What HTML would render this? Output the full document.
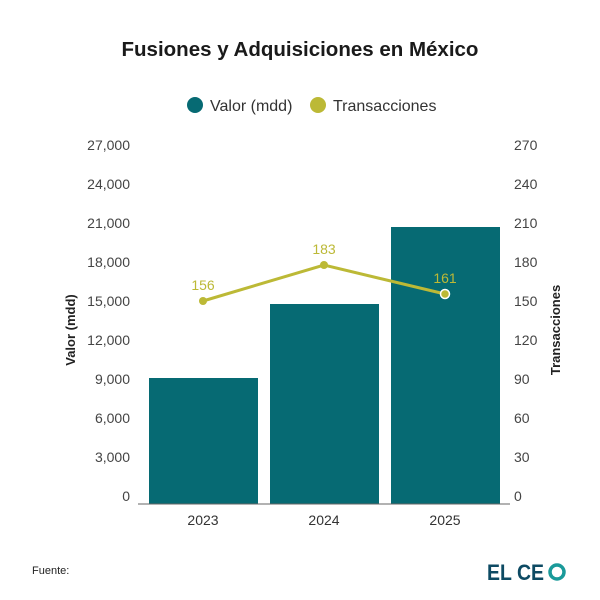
<!DOCTYPE html>
<html><head><meta charset="utf-8"><style>
body{margin:0;background:#fff;}
svg{display:block;font-family:"Liberation Sans",sans-serif;}
</style></head><body>
<svg width="600" height="600" xmlns="http://www.w3.org/2000/svg">
<rect width="600" height="600" fill="#fff"/>
<text x="300" y="56" text-anchor="middle" font-size="20.5" font-weight="bold" fill="#1a1a1a">Fusiones y Adquisiciones en México</text>
<circle cx="195" cy="105" r="8" fill="#066a73"/>
<text x="210" y="111" font-size="16" fill="#333">Valor (mdd)</text>
<circle cx="318" cy="105" r="8" fill="#bcb936"/>
<text x="333" y="111" font-size="16" fill="#333">Transacciones</text>
<g font-size="14" fill="#444" text-anchor="end">
<text x="130" y="150">27,000</text><text x="130" y="189">24,000</text><text x="130" y="228">21,000</text>
<text x="130" y="267">18,000</text><text x="130" y="306">15,000</text><text x="130" y="345">12,000</text>
<text x="130" y="384">9,000</text><text x="130" y="423">6,000</text><text x="130" y="462">3,000</text>
<text x="130" y="501">0</text>
</g>
<g font-size="14" fill="#444" text-anchor="start">
<text x="514" y="150">270</text><text x="514" y="189">240</text><text x="514" y="228">210</text>
<text x="514" y="267">180</text><text x="514" y="306">150</text><text x="514" y="345">120</text>
<text x="514" y="384">90</text><text x="514" y="423">60</text><text x="514" y="462">30</text>
<text x="514" y="501">0</text>
</g>
<text transform="translate(75,330) rotate(-90)" text-anchor="middle" font-size="13" font-weight="bold" fill="#222">Valor (mdd)</text>
<text transform="translate(560,330) rotate(-90)" text-anchor="middle" font-size="13" font-weight="bold" fill="#222">Transacciones</text>
<rect x="149" y="378" width="109" height="126" fill="#066a73"/>
<rect x="270" y="304" width="109" height="200" fill="#066a73"/>
<rect x="391" y="227" width="109" height="277" fill="#066a73"/>
<line x1="138" y1="504" x2="510" y2="504" stroke="#666" stroke-width="1"/>
<g font-size="14" fill="#333" text-anchor="middle">
<text x="203" y="525">2023</text><text x="324" y="525">2024</text><text x="445" y="525">2025</text>
</g>
<polyline points="203,301 324,265 445,294" fill="none" stroke="#bcb936" stroke-width="3"/>
<circle cx="203" cy="301" r="4" fill="#bcb936"/>
<circle cx="324" cy="265" r="4" fill="#bcb936"/>
<circle cx="445" cy="294" r="4.5" fill="#bcb936" stroke="#fff" stroke-width="1.5"/>
<g font-size="14" fill="#bcb936" text-anchor="middle">
<text x="203" y="290">156</text><text x="324" y="254">183</text><text x="445" y="283">161</text>
</g>
<text x="32" y="574" font-size="11" fill="#222">Fuente:</text>
<text x="487" y="580" font-size="22" font-weight="bold" fill="#0d4a63" textLength="57" lengthAdjust="spacingAndGlyphs">EL CE</text>
<circle cx="557" cy="572" r="7" fill="none" stroke="#1a9a9a" stroke-width="3.5"/>
</svg>
</body></html>
